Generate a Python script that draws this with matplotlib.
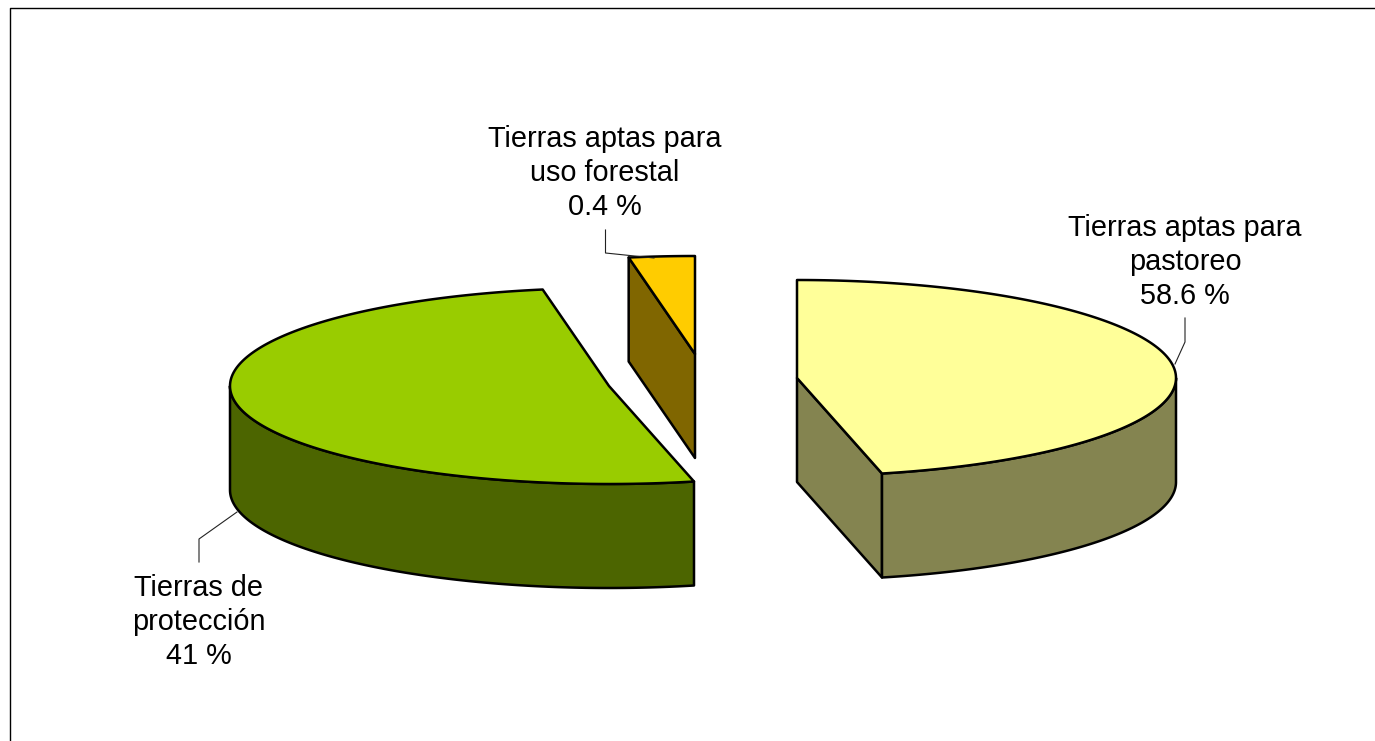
import numpy as np
import matplotlib.pyplot as plt
from matplotlib.patches import Polygon

plt.rcParams['font.family'] = ['Liberation Sans', 'DejaVu Sans']

# labels as printed on the chart
categories = ['Tierras aptas para\npastoreo', 'Tierras de\nprotección', 'Tierras aptas para\nuso forestal']
label_values = ['58.6', '41', '0.4']
# slice sizes as they are actually drawn (percent of the circle)
drawn_shares = [46.4, 50.8, 2.8]

top_colors = ['#FFFF99', '#99CC00', '#FFCC00']
side_colors = ['#848450', '#4C6500', '#806600']

# layout, in pixels of the 1375x741 picture
centers = [(797, 378), (609, 386), (695, 354)]
label_pos = [(1185, 262), (199, 622), (605, 173)]
leaders = [[(1185, 318), (1185, 342), (1175, 364)],
           [(199, 562), (199, 539), (237, 512)],
           [(605.5, 230), (605.5, 253), (654, 258)]]
rx = 379
ry = 98
depth = 104
line_w = 1.8


def ellipse(center, t0, t1):
    t = np.radians(np.linspace(t0, t1, 200))
    return np.column_stack([center[0] + rx * np.cos(t), center[1] - ry * np.sin(t)])


def draw_side(ax, pts, color):
    lower = pts + [0, depth]
    ax.add_patch(Polygon(np.vstack([pts, lower[::-1]]), closed=True, fc=color, ec='black', lw=line_w, joinstyle='round'))


fig = plt.figure(figsize=(13.75, 7.41), dpi=100)
ax = fig.add_axes([0, 0, 1, 1])
ax.set_xlim(0, 1375)
ax.set_ylim(741, 0)
ax.axis('off')

# chart frame, right and bottom edges fall outside the picture
ax.plot([10.5, 10.5, 1375], [741, 8, 8], color='black', lw=1.0)

# slices go clockwise from 12 o'clock
sweeps = np.array(drawn_shares) / sum(drawn_shares) * 360
starts = 90 - np.concatenate([[0], np.cumsum(sweeps)[:-1]])
ends = starts - sweeps

for i in range(len(categories)):
    c = np.array(centers[i], dtype=float)
    arc = ellipse(c, starts[i], ends[i])

    # faces seen from the front: rim below the horizon and cut edges facing us
    if i == 0:
        draw_side(ax, np.array([c, arc[-1]]), side_colors[i])
        draw_side(ax, ellipse(c, ends[i], 0), side_colors[i])
    elif i == 1:
        draw_side(ax, ellipse(c, -180, starts[i]), side_colors[i])
    else:
        draw_side(ax, np.array([arc[0], c]), side_colors[i])

    top = np.vstack([c, arc])
    ax.add_patch(Polygon(top, closed=True, fc=top_colors[i], ec='black', lw=line_w, joinstyle='round'))

    ax.plot(*zip(*leaders[i]), color='#222222', lw=0.8)
    ax.text(label_pos[i][0], label_pos[i][1], categories[i] + '\n' + label_values[i] + ' %',
            ha='center', va='center', ma='center', fontsize=20.8, linespacing=1.28, color='black')

plt.savefig('out.png', dpi=100)
